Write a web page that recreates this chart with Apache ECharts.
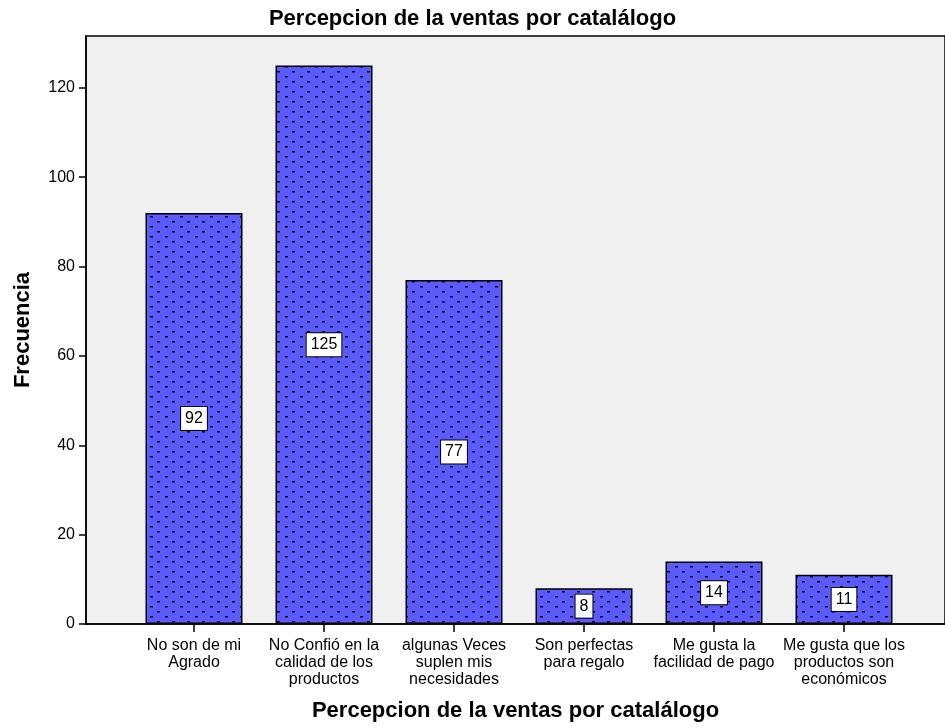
<!DOCTYPE html>
<html>
<head>
<meta charset="utf-8">
<script src="https://cdn.jsdelivr.net/npm/echarts@6/dist/echarts.min.js"></script>
<style>
  html, body { margin: 0; padding: 0; background: #fff; }
  #chart { width: 945px; height: 727px; }
</style>
</head>
<body>
<div id="chart"></div>
<script>
// Chart data
const categories = [
  'No son de mi\nAgrado',
  'No Confió en la\ncalidad de los\nproductos',
  'algunas Veces\nsuplen mis\nnecesidades',
  'Son perfectas\npara regalo',
  'Me gusta la\nfacilidad de pago',
  'Me gusta que los\nproductos son\neconómicos'
];
const frequencies = [92, 125, 77, 8, 14, 11];
const yTicks = [0, 20, 40, 60, 80, 100, 120];
const yMax = 131.6;

const titleText = 'Percepcion de la ventas por catalálogo';
const xName = 'Percepcion de la ventas por catalálogo';
const yName = 'Frecuencia';

const FONT = '"Liberation Sans", Arial, sans-serif';

// Dotted fill tile for the bars
function makePattern() {
  const c = document.createElement('canvas');
  c.width = 15;
  c.height = 10;
  const g = c.getContext('2d');
  g.fillStyle = '#5b5bfd';
  g.fillRect(0, 0, 15, 10);
  g.fillStyle = '#0a0a20';
  g.fillRect(7, 1, 3, 1);
  g.fillRect(0, 6, 3, 1);
  g.fillStyle = '#2e2e8a';
  g.fillRect(7, 2, 3, 1);
  g.fillRect(0, 7, 3, 1);
  return c;
}

const chart = echarts.init(document.getElementById('chart'), null, { renderer: 'canvas' });

chart.setOption({
  animation: false,
  backgroundColor: '#ffffff',
  textStyle: { fontFamily: FONT },
  title: {
    text: titleText,
    left: 'center',
    top: 3,
    textStyle: { fontFamily: FONT, fontSize: 22, fontWeight: 'bold', color: '#000' }
  },
  grid: [
    // frame + value axis
    {
      left: 86, right: -2, top: 36, bottom: 103,
      show: true, backgroundColor: '#f0f0f0',
      borderColor: '#000', borderWidth: 1.5
    },
    // category band for the bars
    { left: 129, right: 36, top: 36, bottom: 103 }
  ],
  xAxis: [
    {
      gridIndex: 0, type: 'value', min: 0, max: 1,
      axisLine: { show: true, lineStyle: { color: '#000', width: 1.5 } },
      axisTick: { show: false }, axisLabel: { show: false }, splitLine: { show: false },
      name: xName, nameLocation: 'middle', nameGap: 76,
      nameTextStyle: { fontFamily: FONT, fontSize: 22, fontWeight: 'bold', color: '#000' }
    },
    {
      gridIndex: 1, type: 'category', data: categories,
      axisLine: { show: false },
      axisTick: { show: true, alignWithLabel: true, length: 8, lineStyle: { color: '#000', width: 1.5 } },
      axisLabel: {
        interval: 0, margin: 13, color: '#000',
        fontFamily: FONT, fontSize: 16, lineHeight: 17
      },
      splitLine: { show: false }
    }
  ],
  yAxis: [
    {
      gridIndex: 0, type: 'value', min: 0, max: yMax,
      axisLine: { show: true, lineStyle: { color: '#000', width: 1.5 } },
      axisTick: { show: true, length: 7, customValues: yTicks, lineStyle: { color: '#000', width: 1.5 } },
      axisLabel: { customValues: yTicks, margin: 11, color: '#000', fontFamily: FONT, fontSize: 16 },
      splitLine: { show: false },
      name: yName, nameLocation: 'middle', nameGap: 52, nameRotate: 90,
      nameTextStyle: { fontFamily: FONT, fontSize: 22, fontWeight: 'bold', color: '#000' }
    },
    {
      gridIndex: 1, type: 'value', min: 0, max: yMax, show: false
    }
  ],
  series: [
    {
      type: 'bar',
      xAxisIndex: 1, yAxisIndex: 1,
      data: frequencies,
      barWidth: 97,
      itemStyle: {
        color: { image: makePattern(), repeat: 'repeat' },
        borderColor: '#000',
        borderWidth: 1.5
      },
      label: {
        show: true, position: 'inside',
        color: '#000', fontFamily: FONT, fontSize: 16,
        backgroundColor: '#fff', borderColor: '#000', borderWidth: 1,
        padding: [4, 4, 3, 4]
      }
    }
  ]
});
</script>
</body>
</html>
